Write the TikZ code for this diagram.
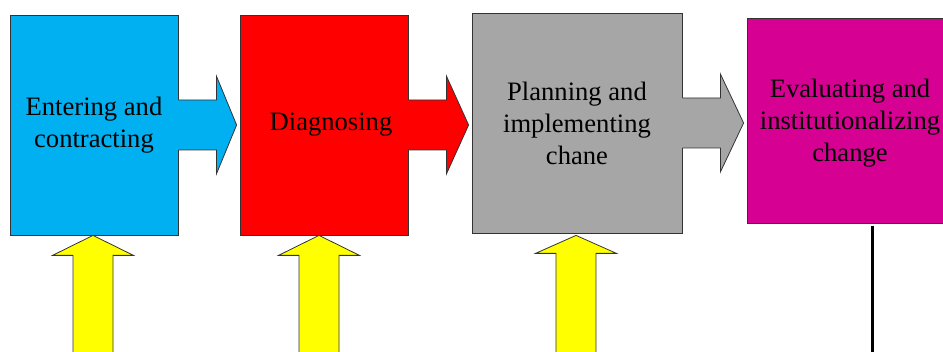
\documentclass[tikz,border=0pt]{standalone}
\usepackage{fontspec}
\setmainfont{Liberation Serif}
\usetikzlibrary{calc}
\definecolor{cblue}{HTML}{00B0F0}
\definecolor{cred}{HTML}{FF0000}
\definecolor{cgray}{HTML}{A6A6A6}
\definecolor{cmag}{HTML}{D60093}
\definecolor{cyel}{HTML}{FFFF00}
\definecolor{cedge}{HTML}{333333}
\tikzset{
  stagetext/.style={align=center, font=\rmfamily\fontsize{26.6}{32}\selectfont},
  stagebox/.style={draw=cedge, line width=0.8pt, minimum height=220pt, inner sep=0pt, stagetext},
  outl/.style={draw=cedge, line width=0.8pt, line join=miter},
}
% right block arrow between two boxes
\newcommand\rightblock[3]{%
  \fill[#3] ($(#1.east)+(-1,-25)$) -- ($(#1.east)+(38,-25)$) -- ($(#1.east)+(38,-49)$)
    -- ($(#1.east -| #2.west)+(-3,0)$) -- ($(#1.east)+(38,49)$) -- ($(#1.east)+(38,25)$)
    -- ($(#1.east)+(-1,25)$) -- cycle;
  \draw[outl] ($(#1.east)+(0,-25)$) -- ($(#1.east)+(38,-25)$) -- ($(#1.east)+(38,-49)$)
    -- ($(#1.east -| #2.west)+(-3,0)$) -- ($(#1.east)+(38,49)$) -- ($(#1.east)+(38,25)$)
    -- ($(#1.east)+(0,25)$);
}
% upward yellow block arrow into a box, free end at coordinate #2
\newcommand\upblock[3]{%
  \fill[cyel] ($(#2)+(-20,0)$) -- ($(#1.south -| #2)+(-20,20)$) -- ($(#1.south -| #2)+(-40.5,20)$)
    -- ($(#1.south -| #2)+(0,#3)$) -- ($(#1.south -| #2)+(40.5,20)$) -- ($(#1.south -| #2)+(20,20)$)
    -- ($(#2)+(20,0)$) -- cycle;
  \draw[outl] ($(#2)+(-20,0)$) -- ($(#1.south -| #2)+(-20,20)$) -- ($(#1.south -| #2)+(-40.5,20)$)
    -- ($(#1.south -| #2)+(0,#3)$) -- ($(#1.south -| #2)+(40.5,20)$) -- ($(#1.south -| #2)+(20,20)$)
    -- ($(#2)+(20,0)$);
}
\begin{document}
\begin{tikzpicture}[x=1pt,y=-1pt]
\useasboundingbox (0,0) rectangle (943,352);
\node[stagebox, fill=cblue, minimum width=168pt] (b1) at (94,125) {Entering and\\contracting};
\node[stagebox, fill=cred, minimum width=168pt] (b2) at (324,125) {\hspace*{14pt}Diagnosing};
\node[stagebox, fill=cgray, minimum width=210pt] (b3) at (577,123) {Planning and\\implementing\\chane};
\node[stagebox, fill=cmag, minimum width=206pt, minimum height=205pt,
  label={[stagetext, yshift=-3pt]center:Evaluating and\\institutionalizing\\change}] (b4) at (850,120.5) {};
\rightblock{b1}{b2}{cblue}
\rightblock{b2}{b3}{cred}
\rightblock{b3}{b4}{cgray}
\coordinate (y1) at (93,360);
\coordinate (y2) at (319,360);
\coordinate (y3) at (576,360);
\upblock{b1}{y1}{0}
\upblock{b2}{y2}{0}
\upblock{b3}{y3}{2}
\coordinate (l4) at (872,360);
\draw[line width=3pt, black] ($(l4 |- b4.south)+(0,3)$) -- (l4);
\end{tikzpicture}
\end{document}
